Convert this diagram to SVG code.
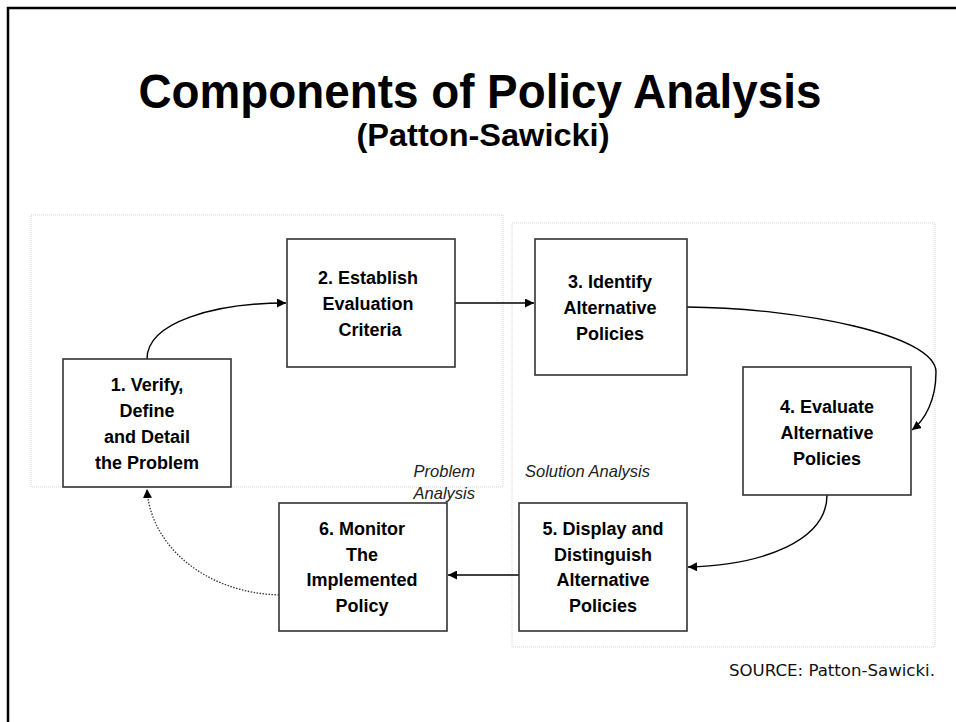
<svg xmlns="http://www.w3.org/2000/svg" width="956" height="722" viewBox="0 0 956 722">
<defs>
<marker id="ah" viewBox="0 0 10 10" refX="10" refY="5" markerWidth="9" markerHeight="9" markerUnits="userSpaceOnUse" orient="auto">
<path d="M0,0 L10,5 L0,10 Z" fill="#000"/>
</marker>
</defs>
<style>
.box{fill:#fff;stroke:#333;stroke-width:1.6}
.region{fill:none;stroke:#d4d4d4;stroke-width:1;stroke-dasharray:1 1}
.lbl{font-family:"Liberation Sans",Arial,sans-serif;font-weight:bold;font-size:18px;fill:#000;text-anchor:middle}
.ital{font-family:"Liberation Sans",Arial,sans-serif;font-style:italic;font-size:16.5px;fill:#222}
.conn{fill:none;stroke:#000;stroke-width:1.4}
.dot{fill:none;stroke:#333;stroke-width:1.3;stroke-dasharray:1.5 1.5}
</style>
<rect width="956" height="722" fill="#fff"/>
<path d="M8,722 L8,8 L956,8" fill="none" stroke="#000" stroke-width="2.5"/>
<text x="480" y="108" font-family="Liberation Sans,Arial,sans-serif" font-weight="bold" font-size="49" text-anchor="middle" textLength="683" lengthAdjust="spacingAndGlyphs">Components of Policy Analysis</text>
<text x="483" y="146" font-family="Liberation Sans,Arial,sans-serif" font-weight="bold" font-size="31" text-anchor="middle" textLength="253" lengthAdjust="spacingAndGlyphs">(Patton-Sawicki)</text>
<g id="regions">
<rect class="region" x="31" y="215" width="472" height="272"/>
<rect class="region" x="512" y="223" width="423" height="424"/>
<text class="ital" x="475" y="477" text-anchor="end">Problem</text>
<text class="ital" x="475" y="499" text-anchor="end">Analysis</text>
<text class="ital" x="525" y="477">Solution Analysis</text>
</g>
<g id="connectors">
<path class="conn" d="M147,359 C147,322 215,303 286,303" marker-end="url(#ah)"/>
<path class="conn" d="M455,303 L534,303" marker-end="url(#ah)"/>
<path class="conn" d="M687,307 C800,308 936,335 936,372 C936,400 925,420 912,430" marker-end="url(#ah)"/>
<path class="conn" d="M827,495 C827,540 765,565 688,567" marker-end="url(#ah)"/>
<path class="conn" d="M519,575 L448,575" marker-end="url(#ah)"/>
<path class="dot" d="M282,595 C205,594 150,545 147,489" marker-end="url(#ah)"/>
</g>
<g id="n1">
<rect class="box" x="63" y="359" width="168" height="128"/>
<text class="lbl" x="147" y="391">1. Verify,</text>
<text class="lbl" x="147" y="417">Define</text>
<text class="lbl" x="147" y="443">and Detail</text>
<text class="lbl" x="147" y="469">the Problem</text>
</g>
<g id="n2">
<rect class="box" x="287" y="239" width="168" height="128"/>
<text class="lbl" x="368" y="284">2. Establish</text>
<text class="lbl" x="368" y="310">Evaluation</text>
<text class="lbl" x="370" y="336">Criteria</text>
</g>
<g id="n3">
<rect class="box" x="535" y="239" width="152" height="136"/>
<text class="lbl" x="610" y="288">3. Identify</text>
<text class="lbl" x="610" y="314">Alternative</text>
<text class="lbl" x="610" y="340">Policies</text>
</g>
<g id="n4">
<rect class="box" x="743" y="367" width="168" height="128"/>
<text class="lbl" x="827" y="413">4. Evaluate</text>
<text class="lbl" x="827" y="439">Alternative</text>
<text class="lbl" x="827" y="465">Policies</text>
</g>
<g id="n5">
<rect class="box" x="519" y="503" width="168" height="128"/>
<text class="lbl" x="603" y="535">5. Display and</text>
<text class="lbl" x="603" y="561">Distinguish</text>
<text class="lbl" x="603" y="586">Alternative</text>
<text class="lbl" x="603" y="612">Policies</text>
</g>
<g id="n6">
<rect class="box" x="279" y="503" width="168" height="128"/>
<text class="lbl" x="362" y="535">6. Monitor</text>
<text class="lbl" x="362" y="561">The</text>
<text class="lbl" x="362" y="586">Implemented</text>
<text class="lbl" x="362" y="612">Policy</text>
</g>
<text x="935" y="676" font-family="DejaVu Sans,Verdana,sans-serif" font-size="15" fill="#111" text-anchor="end" textLength="206" lengthAdjust="spacingAndGlyphs">SOURCE: Patton-Sawicki.</text>
</svg>
